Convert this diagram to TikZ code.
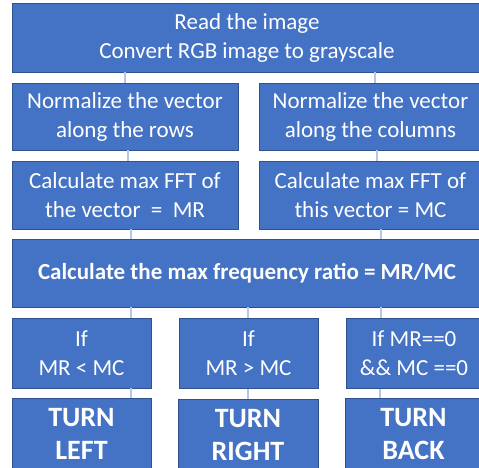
\documentclass[tikz,border=0pt]{standalone}
\usepackage{fontspec}
\setmainfont{Carlito}
\definecolor{boxblue}{HTML}{4472C4}
\definecolor{boxedge}{HTML}{2F528F}
\definecolor{linkblue}{HTML}{B4C7E7}
\tikzset{
  stepbox/.style={draw=boxedge, line width=.8pt, fill=boxblue, text=white,
    align=center, inner sep=0pt, font=\fontsize{23}{29}\selectfont},
  turnbox/.style={stepbox, font=\fontsize{28}{33}\selectfont\bfseries},
  link/.style={draw=linkblue, line width=1.5pt}
}
\begin{document}
\begin{tikzpicture}[x=1pt,y=-1pt]
				\useasboundingbox (0,0) rectangle (479,468);

				\node [stepbox, minimum width=470pt, minimum height=69pt] (read) at (247,37.5) {Read the image\\Convert RGB image to grayscale};

				\node [stepbox, minimum width=226pt, minimum height=67pt] (rowsnorm) at (125,116.5) {Normalize the vector\\along the rows};
				\node [stepbox, minimum width=223pt, minimum height=67pt] (colsnorm) at (370.5,116.5) {Normalize the vector\\along the columns};

				\node [stepbox, minimum width=226pt, minimum height=68pt] (rowsfft) at (125,195) {Calculate max FFT of\\the vector \ = \ MR};
				\node [stepbox, minimum width=223pt, minimum height=68pt] (colsfft) at (370.5,195) {Calculate max FFT of\\this vector = MC};

				\node [stepbox, minimum width=470pt, minimum height=68pt] (ratio) at (247,273) {\bfseries Calculate the max frequency ratio = MR/MC};

				\node [stepbox, minimum width=139pt, minimum height=70pt] (ifless) at (81.5,353) {If\\MR < MC};
				\node [stepbox, minimum width=139pt, minimum height=70pt] (ifmore) at (248.5,353.5) {If\\MR > MC};
				\node [stepbox, minimum width=136pt, minimum height=70pt] (ifzero) at (414,353.5) {If MR==0\\\&\& MC ==0};

				\node [turnbox, minimum width=139pt, minimum height=72pt] (turnleft) at (81.5,434) {TURN\\LEFT};
				\node [turnbox, minimum width=140pt, minimum height=72pt] (turnright) at (248,435) {TURN\\RIGHT};
				\node [turnbox, minimum width=137pt, minimum height=72pt] (turnback) at (413.5,434.5) {TURN\\BACK};

				\foreach \a/\b/\x in {read/rowsnorm/125, read/colsnorm/375, rowsnorm/rowsfft/128, colsnorm/colsfft/377,
					rowsfft/ratio/131, colsfft/ratio/381, ratio/ifless/131, ratio/ifmore/248, ratio/ifzero/381,
					ifless/turnleft/131, ifmore/turnright/248, ifzero/turnback/380}
				{
					\coordinate (lx) at (\x,0);
					\draw [link] (\a.south -| lx) -- (\b.north -| lx);
				}
\end{tikzpicture}
\end{document}
